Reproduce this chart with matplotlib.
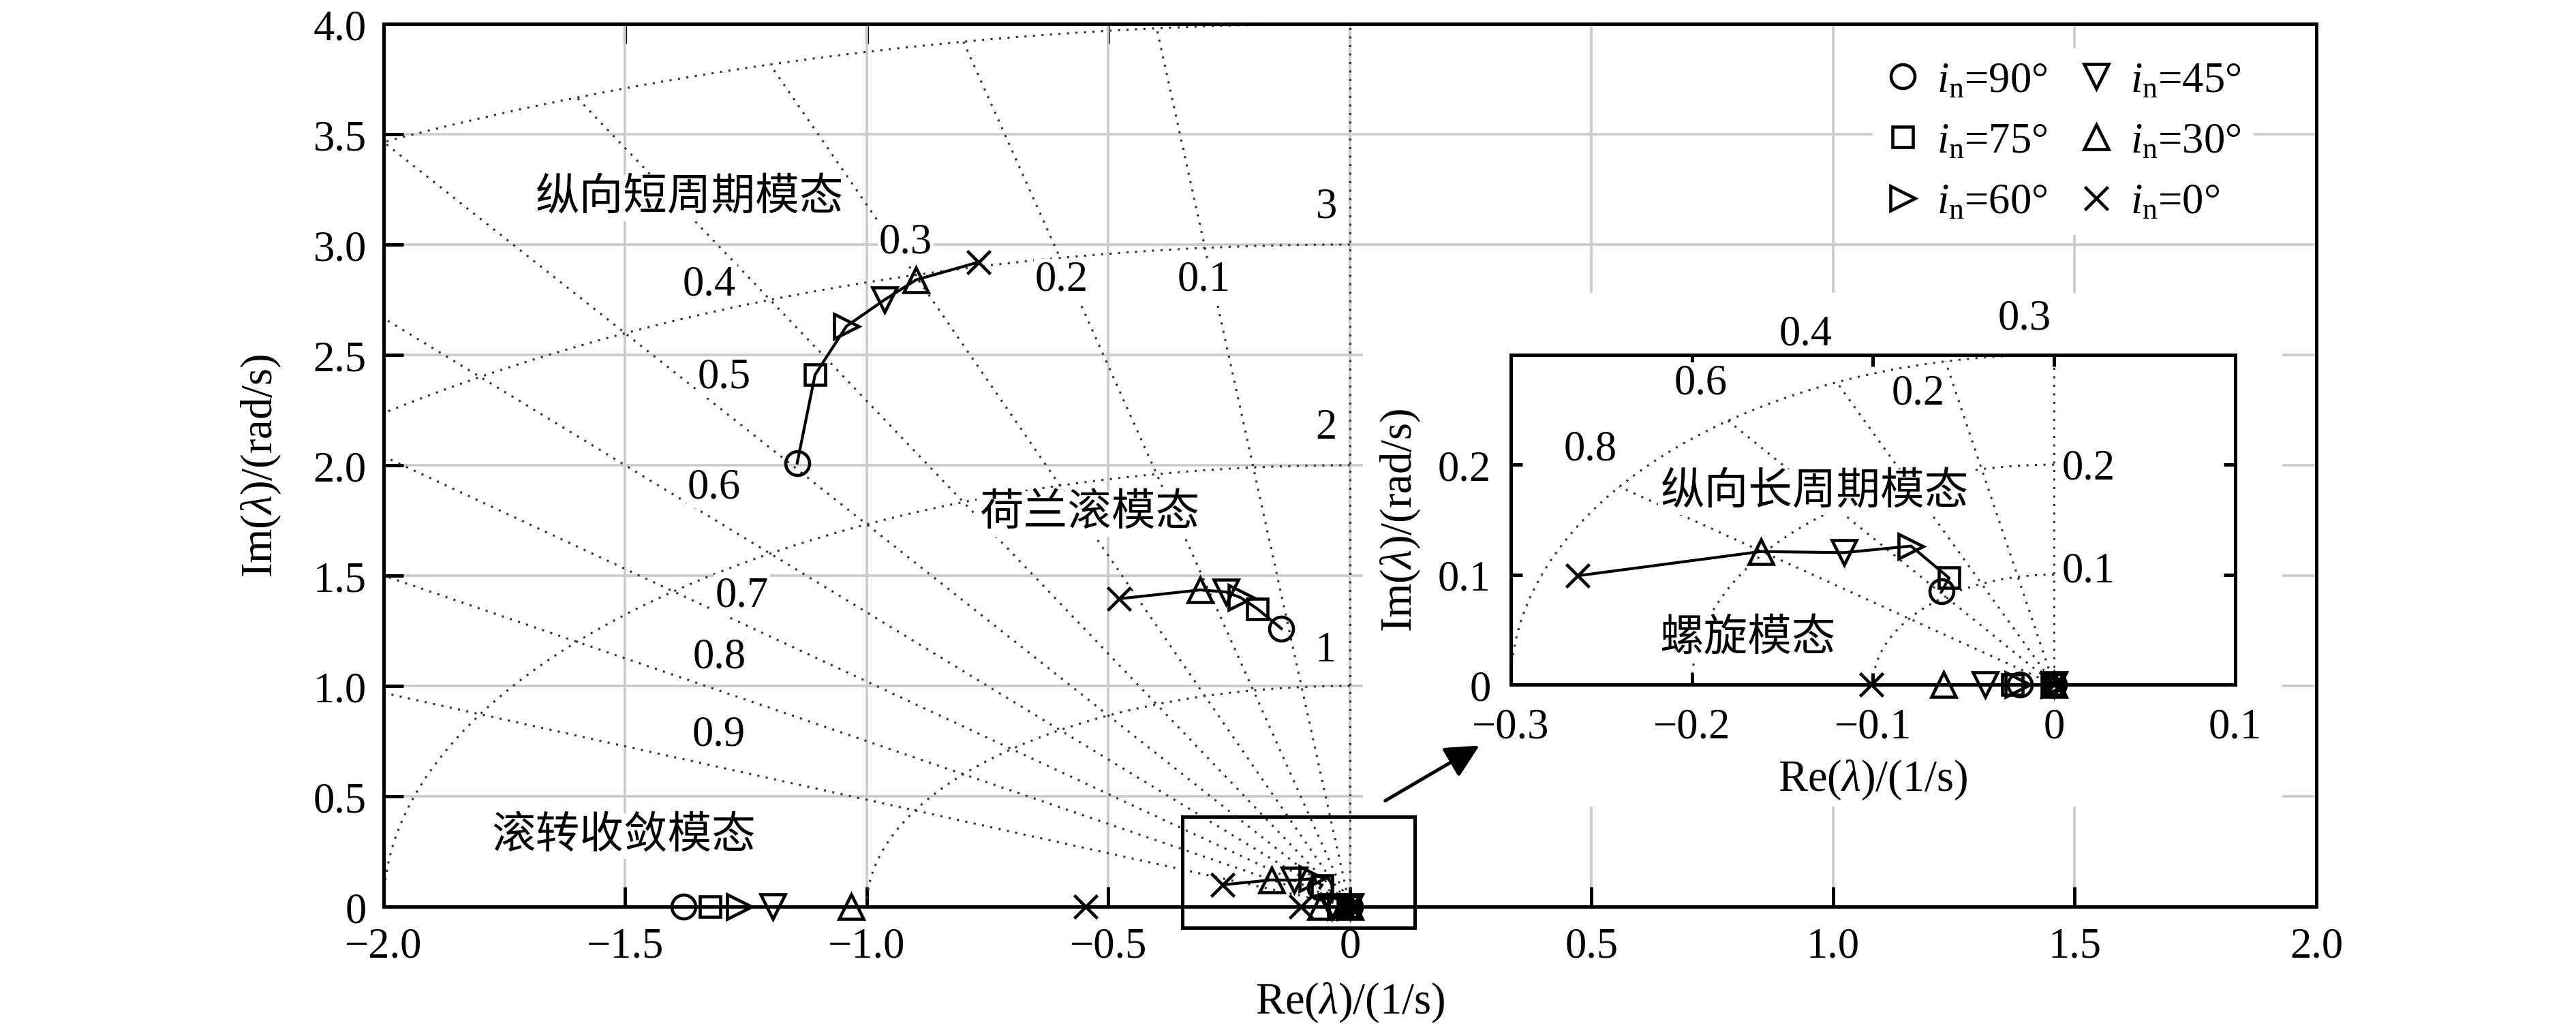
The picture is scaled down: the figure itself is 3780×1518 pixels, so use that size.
import numpy as np
import matplotlib
matplotlib.use('Agg')
import matplotlib.pyplot as plt
from matplotlib.patches import Rectangle, FancyArrowPatch

plt.rcParams['font.family'] = ['Liberation Serif', 'Noto Sans CJK SC']
plt.rcParams['mathtext.fontset'] = 'custom'
plt.rcParams['mathtext.rm'] = 'Liberation Serif'
plt.rcParams['mathtext.it'] = 'Liberation Serif:italic'

# 倾角 i_n 的六种工况
incl_labels = ['90°', '75°', '60°', '45°', '30°', '0°']
markers = ['o', 's', '>', 'v', '^', 'x']
marker_sizes = [8.4, 7.4, 8.6, 8.6, 8.6, 8.0]

# 纵向短周期模态
short_re = [-1.144, -1.107, -1.042, -0.963, -0.898, -0.769]
short_im = [2.01, 2.41, 2.63, 2.75, 2.84, 2.92]
# 荷兰滚模态
dutch_re = [-0.142, -0.192, -0.226, -0.257, -0.310, -0.478]
dutch_im = [1.26, 1.35, 1.40, 1.426, 1.435, 1.395]
# 滚转收敛模态
roll_re = [-1.379, -1.324, -1.264, -1.195, -1.032, -0.547]
roll_im = [0, 0, 0, 0, 0, 0]
# 纵向长周期模态
phug_re = [-0.062, -0.058, -0.079, -0.116, -0.162, -0.263]
phug_im = [0.085, 0.097, 0.126, 0.120, 0.121, 0.099]
# 螺旋模态
spiral_re = [-0.019, -0.023, -0.020, -0.038, -0.061, -0.101]
spiral_im = [0, 0, 0, 0, 0, 0]
# 零根
zero_re = [0, 0, 0, 0, 0, 0]
zero_im = [0, 0, 0, 0, 0, 0]

# 阻尼比 / 自然频率 参考线
zeta_main = [0.1, 0.2, 0.3, 0.4, 0.5, 0.6, 0.7, 0.8, 0.9]
omega_main = [1, 2, 3, 4]
zeta_inset = [0.2, 0.4, 0.6, 0.8]
omega_inset = [0.1, 0.2, 0.3]

main_xticks = [-2.0, -1.5, -1.0, -0.5, 0, 0.5, 1.0, 1.5, 2.0]
main_xticklabels = ['\u22122.0', '\u22121.5', '\u22121.0', '\u22120.5', '0', '0.5', '1.0', '1.5', '2.0']
main_yticks = [0, 0.5, 1.0, 1.5, 2.0, 2.5, 3.0, 3.5, 4.0]
main_yticklabels = ['0', '0.5', '1.0', '1.5', '2.0', '2.5', '3.0', '3.5', '4.0']
inset_xticks = [-0.3, -0.2, -0.1, 0, 0.1]
inset_xticklabels = ['\u22120.3', '\u22120.2', '\u22120.1', '0', '0.1']
inset_yticks = [0, 0.1, 0.2]
inset_yticklabels = ['0', '0.1', '0.2']

# 参考线标注 (文字, x, y)
main_grid_text = [
    ('0.1', -0.302, 2.84), ('0.2', -0.597, 2.84), ('0.3', -0.92, 3.01),
    ('0.4', -1.326, 2.82), ('0.5', -1.295, 2.40), ('0.6', -1.316, 1.90),
    ('0.7', -1.258, 1.41), ('0.8', -1.305, 1.13), ('0.9', -1.307, 0.78),
    ('3', -0.049, 3.17), ('2', -0.049, 2.17), ('1', -0.05, 1.16),
]
main_mode_text = [
    ('纵向短周期模态', -1.367, 3.21), ('荷兰滚模态', -0.539, 1.78),
    ('滚转收敛模态', -1.503, 0.32),
]
inset_grid_text = [
    ('0.4', -0.137, 0.319), ('0.3', -0.0165, 0.333), ('0.6', -0.195, 0.274),
    ('0.2', -0.075, 0.265), ('0.8', -0.256, 0.214), ('0.2', 0.019, 0.197),
    ('0.1', 0.019, 0.103),
]
inset_mode_text = [('纵向长周期模态', -0.132, 0.175), ('螺旋模态', -0.169, 0.042)]

FS = 15
dot_kw = dict(color='#333333', lw=0.75, linestyle=(0, (1, 3)), zorder=1)


def draw_sgrid(axis, zetas, omegas, r_max):
    th = np.linspace(np.pi / 2, np.pi, 300)
    for w in omegas:
        axis.plot(w * np.cos(th), w * np.sin(th), **dot_kw)
    for z in zetas:
        axis.plot([0, -z * r_max], [0, np.sqrt(1 - z ** 2) * r_max], **dot_kw)
    axis.plot([0, 0], [0, r_max], **dot_kw)


def draw_points(axis, modes, with_label):
    # modes: list of (re, im, connect)
    for re_list, im_list, connect in modes:
        if connect:
            axis.plot(re_list, im_list, color='k', lw=1.0, zorder=3)
    for i in range(6):
        xs = [m[0][i] for m in modes]
        ys = [m[1][i] for m in modes]
        lab = r'$i_{\mathrm{n}}$=' + incl_labels[i] if with_label else None
        axis.plot(xs, ys, linestyle='none', marker=markers[i], ms=marker_sizes[i],
                  mfc='none', mec='k', mew=1.1, zorder=4, clip_on=False, label=lab)


fig = plt.figure(figsize=(12.6, 5.0633), dpi=300)

# ---------------- 主图 ----------------
ax = fig.add_axes([0.1489, 0.1231, 0.7503, 0.8532])
ax.set_xlim(-2, 2)
ax.set_ylim(0, 4)
ax.set_axisbelow(True)
ax.grid(True, color='#cccccc', lw=0.9)
draw_sgrid(ax, zeta_main, omega_main, 4.0)
draw_points(ax, [(short_re, short_im, True), (dutch_re, dutch_im, True),
                 (roll_re, roll_im, False), (phug_re, phug_im, True),
                 (spiral_re, spiral_im, False), (zero_re, zero_im, False)], True)

for txt, x, y in main_grid_text:
    ax.text(x, y, txt, fontsize=FS, ha='center', va='center', zorder=2,
            bbox=dict(fc='white', ec='none', pad=0.5))
for txt, x, y in main_mode_text:
    ax.text(x, y, txt, fontsize=15.5, ha='center', va='center', zorder=2,
            bbox=dict(fc='white', ec='none', pad=1.0))

ax.add_patch(Rectangle((-0.347, -0.096), 0.481, 0.503, fill=False, ec='k',
                       lw=1.2, clip_on=False, zorder=5))

ax.set_xticks(main_xticks)
ax.set_xticklabels(main_xticklabels)
ax.set_yticks(main_yticks)
ax.set_yticklabels(main_yticklabels)
ax.tick_params(direction='in', length=7, width=1.2, labelsize=FS,
               top=False, right=False)
ax.tick_params(axis='x', pad=7)
ax.tick_params(axis='y', pad=6)
for s in ax.spines.values():
    s.set_linewidth(1.2)
top = ax.secondary_xaxis('top')
top.set_xticks([-1.5, -1.0, -0.5])
top.tick_params(direction='in', length=7, width=1.2, labeltop=False)
top.spines['top'].set_linewidth(1.2)

ax.set_xlabel(r'Re($\lambda$)/(1/s)', fontsize=15.5)
ax.set_ylabel(r'Im($\lambda$)/(rad/s)', fontsize=15.5)
ax.xaxis.set_label_coords(0.5, -0.083)
ax.yaxis.set_label_coords(-0.052, 0.5)

leg = ax.legend(ncol=2, loc='upper left', bbox_to_anchor=(0.7705, 0.972),
                borderaxespad=0, borderpad=0.3, fontsize=FS, frameon=True,
                handlelength=0.8, handletextpad=0.4, columnspacing=0.75,
                labelspacing=0.5)
leg.get_frame().set_facecolor('white')
leg.get_frame().set_edgecolor('none')
leg.get_frame().set_alpha(1)
leg.set_zorder(6)

# 局部放大区域白底
fig.add_artist(Rectangle((2000 / 3780, 1 - 1185 / 1519), 1349 / 3780, 754 / 1519,
                         transform=fig.transFigure, fc='white', ec='none', zorder=1))

# ---------------- 局部放大图 ----------------
axi = fig.add_axes([0.5865, 0.3377, 0.2812, 0.3188])
axi.set_zorder(2)
axi.set_xlim(-0.3, 0.1)
axi.set_ylim(0, 0.3)
draw_sgrid(axi, zeta_inset, omega_inset, 0.3)
draw_points(axi, [(phug_re, phug_im, True), (spiral_re, spiral_im, False),
                  (zero_re, zero_im, False)], False)
for txt, x, y in inset_grid_text:
    axi.text(x, y, txt, fontsize=FS, ha='center', va='center', zorder=2,
             bbox=dict(fc='white', ec='none', pad=0.5))
for txt, x, y in inset_mode_text:
    axi.text(x, y, txt, fontsize=15.5, ha='center', va='center', zorder=2,
             bbox=dict(fc='white', ec='none', pad=1.0))
axi.set_xticks(inset_xticks)
axi.set_xticklabels(inset_xticklabels)
axi.set_yticks(inset_yticks)
axi.set_yticklabels(inset_yticklabels)
axi.tick_params(direction='in', length=4, width=1.2, labelsize=FS,
                top=True, right=True)
axi.tick_params(axis='x', pad=8)
axi.tick_params(axis='y', pad=7)
for s in axi.spines.values():
    s.set_linewidth(1.2)
axi.set_xlabel(r'Re($\lambda$)/(1/s)', fontsize=15.5)
axi.set_ylabel(r'Im($\lambda$)/(rad/s)', fontsize=15.5)
axi.xaxis.set_label_coords(0.5, -0.221)
axi.yaxis.set_label_coords(-0.122, 0.5)

# 指示箭头
fig.add_artist(FancyArrowPatch((0.073, 0.48), (0.268, 0.73), transform=ax.transData,
                               arrowstyle='-|>,head_length=0.5,head_width=0.25',
                               mutation_scale=20, lw=1.2, color='k',
                               shrinkA=0, shrinkB=0, zorder=3))

fig.savefig('out.png', dpi=300, facecolor='white')
